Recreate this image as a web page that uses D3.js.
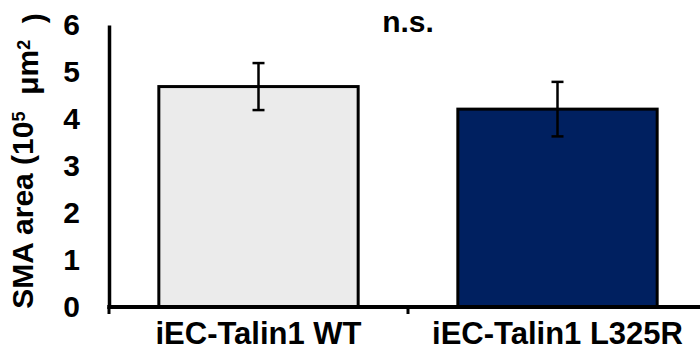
<!DOCTYPE html>
<html>
<head>
<meta charset="utf-8">
<script src="https://cdnjs.cloudflare.com/ajax/libs/d3/7.8.5/d3.min.js"></script>
<style>
  body { margin: 0; background: #fff; }
  svg text { font-family: "Liberation Sans", Arial, sans-serif; font-weight: bold; fill: #000; }
</style>
</head>
<body>
<div id="chart"></div>
<script>
// data
var groups = ["iEC-Talin1 WT", "iEC-Talin1 L325R"];
var means = [4.69, 4.21];
var errors = [0.50, 0.58];
var yTicks = [0, 1, 2, 3, 4, 5, 6];
var sigLabel = "n.s.";
var barColors = ["#ebebeb", "#002060"];

var W = 700, H = 353;
var margin = { top: 25, right: -7, bottom: 46, left: 109 };
var width = W - margin.left - margin.right,
    height = H - margin.top - margin.bottom;

var svg = d3.select("#chart").append("svg")
    .attr("width", W)
    .attr("height", H)
    .append("g")
    .attr("transform", "translate(" + margin.left + "," + margin.top + ")");

var x = d3.scaleBand()
    .domain(groups)
    .range([0, width])
    .paddingInner(1 / 3)
    .paddingOuter(1 / 6);
var y = d3.scaleLinear()
    .domain([0, 6])
    .range([height, 0]);

// bars
svg.selectAll("rect.bar")
    .data(groups)
    .enter().append("rect")
    .attr("class", "bar")
    .attr("x", function(d) { return x(d); })
    .attr("width", x.bandwidth())
    .attr("y", function(d, i) { return y(means[i]); })
    .attr("height", function(d, i) { return y(0) - y(means[i]); })
    .attr("fill", function(d, i) { return barColors[i]; })
    .attr("stroke", "#000")
    .attr("stroke-width", 3);

// error bars
var capW = 12;
var err = svg.selectAll("g.err")
    .data(groups)
    .enter().append("g")
    .attr("class", "err")
    .attr("stroke", "#000")
    .attr("stroke-width", 2.5);
err.append("line")
    .attr("x1", function(d) { return x(d) + x.bandwidth() / 2; })
    .attr("x2", function(d) { return x(d) + x.bandwidth() / 2; })
    .attr("y1", function(d, i) { return y(means[i] + errors[i]); })
    .attr("y2", function(d, i) { return y(means[i] - errors[i]); });
[1, -1].forEach(function(s) {
    err.append("line")
        .attr("x1", function(d) { return x(d) + x.bandwidth() / 2 - capW / 2; })
        .attr("x2", function(d) { return x(d) + x.bandwidth() / 2 + capW / 2; })
        .attr("y1", function(d, i) { return y(means[i] + s * errors[i]); })
        .attr("y2", function(d, i) { return y(means[i] + s * errors[i]); });
});

// y axis
var yAxis = d3.axisLeft(y).tickValues(yTicks).tickFormat(d3.format("d"))
    .tickSize(0).tickPadding(29);
var gy = svg.append("g").call(yAxis);
gy.select(".domain").attr("stroke", "#000").attr("stroke-width", 3.5);
gy.selectAll("text").style("font-size", "30px");

// x axis (labels at band centres, ticks at band edges)
var xAxis = d3.axisBottom(x).tickSize(0).tickPadding(15);
var gx = svg.append("g")
    .attr("transform", "translate(0," + height + ")")
    .call(xAxis);
gx.select(".domain").remove();
gx.selectAll("text").style("font-size", "31px");
gx.append("line")
    .attr("x1", -1.75).attr("x2", width)
    .attr("stroke", "#000").attr("stroke-width", 4);
var edges = d3.range(groups.length + 1).map(function(i) { return i * x.step(); });
gx.selectAll("line.edge")
    .data(edges)
    .enter().append("line")
    .attr("class", "edge")
    .attr("x1", function(d) { return d; })
    .attr("x2", function(d) { return d; })
    .attr("y1", 0).attr("y2", 7)
    .attr("stroke", "#000").attr("stroke-width", 3);

// significance label
svg.append("text")
    .attr("x", x.step())
    .attr("y", y(6) + 7)
    .attr("text-anchor", "middle")
    .style("font-size", "30px")
    .text(sigLabel);

// y title
var title = svg.append("text")
    .attr("transform", "translate(" + (-margin.left + 33) + "," + (height / 2 - 5) + ") rotate(-90)")
    .attr("text-anchor", "middle")
    .style("font-size", "30px");
title.append("tspan").text("SMA area (10");
title.append("tspan").attr("dy", "-0.45em").style("font-size", "18px").text("5");
title.append("tspan").attr("dy", "0.45em").text("\u00a0 \u03bcm");
title.append("tspan").attr("dy", "-0.45em").style("font-size", "18px").text("2");
title.append("tspan").attr("dy", "0.45em").text("\u00a0 )");
</script>
</body>
</html>
